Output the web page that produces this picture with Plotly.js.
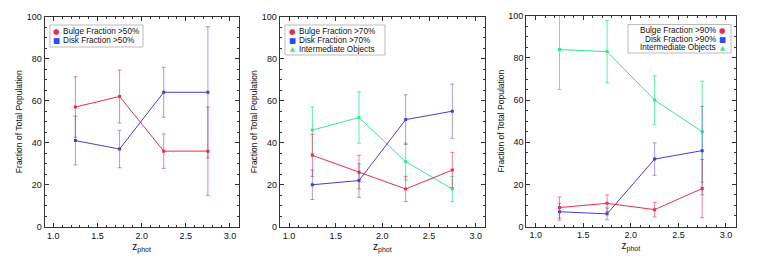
<!DOCTYPE html>
<html>
<head>
<meta charset="utf-8">
<script src="https://cdn.plot.ly/plotly-3.0.1.min.js"></script>
<style>html,body{margin:0;padding:0;background:#fff;}#chart{width:761px;height:258px;}</style>
</head>
<body>
<div id="chart"></div>
<script>
// ---- data ----
const zPhot = [1.25, 1.75, 2.25, 2.75];

// panel 1 (fraction > 50%)
const bulge50 = [57, 62, 36, 36];
const bulge50Err = [14.4, 12.6, 8.2, 21];
const disk50 = [41, 37, 64, 64];
const disk50Err = [11.6, 8.9, 11.9, 31.2];

// panel 2 (fraction > 70%)
const bulge70 = [34, 26, 18, 27];
const bulge70Err = [10, 8, 6, 8.4];
const disk70 = [20, 22, 51, 55];
const disk70Err = [7, 8, 11.8, 12.9];
const inter70 = [46, 52, 31, 18];
const inter70Err = [11, 12.2, 8.8, 6];

// panel 3 (fraction > 90%)
const bulge90 = [9, 11, 8, 18];
const bulge90Err = [5, 4, 3.5, 13.8];
const disk90 = [7, 6, 32, 36];
const disk90Err = [4, 2.8, 7.7, 21];
const inter90 = [84, 83, 60, 45];
const inter90Err = [19, 14.8, 11.5, 24];

const xTickVals = [1.0, 1.5, 2.0, 2.5, 3.0];
const xTickText = ['1.0', '1.5', '2.0', '2.5', '3.0'];
const yTickVals = [0, 20, 40, 60, 80, 100];
const yTickText = ['0', '20', '40', '60', '80', '100'];

const legend50 = ['Bulge Fraction >50%', 'Disk Fraction >50%'];
const legend70 = ['Bulge Fraction >70%', 'Disk Fraction >70%', 'Intermediate Objects'];
const legend90 = ['Bulge Fraction >90%', 'Disk Fraction >90%', 'Intermediate Objects'];
const yTitle = 'Fraction of Total Population';
const xTitle = 'z<sub>phot</sub>';

// ---- styles ----
const W = 761, H = 258;
const RED = '#e4304e', BLUE = '#4a3ec6', GREEN = '#36e890';
const RED_E = 'rgba(228,48,78,0.6)', BLUE_E = 'rgba(74,62,198,0.5)', GREEN_E = 'rgba(46,230,142,0.75)';
const FONT = 'Liberation Sans, Arial, sans-serif';
const px = x => x / W;
const py = y => 1 - y / H;

function series(y, err, color, ecolor, xa, ya, name) {
  return {
    x: zPhot, y: y, name: name, type: 'scatter', mode: 'lines+markers',
    xaxis: xa, yaxis: ya,
    line: {color: color, width: 1},
    marker: {color: color, symbol: 'square', size: 3},
    error_y: {type: 'data', array: err, visible: true, color: ecolor, thickness: 1, width: 2},
    showlegend: false
  };
}

const data = [
  series(bulge50, bulge50Err, RED, RED_E, 'x', 'y', legend50[0]),
  series(disk50, disk50Err, BLUE, BLUE_E, 'x', 'y', legend50[1]),
  series(inter70, inter70Err, GREEN, GREEN_E, 'x2', 'y2', legend70[2]),
  series(bulge70, bulge70Err, RED, RED_E, 'x2', 'y2', legend70[0]),
  series(disk70, disk70Err, BLUE, BLUE_E, 'x2', 'y2', legend70[1]),
  series(inter90, inter90Err, GREEN, GREEN_E, 'x3', 'y3', legend90[2]),
  series(disk90, disk90Err, BLUE, BLUE_E, 'x3', 'y3', legend90[1]),
  series(bulge90, bulge90Err, RED, RED_E, 'x3', 'y3', legend90[0])
];

const axisCommon = {
  showline: true, linecolor: '#333', linewidth: 1, mirror: 'allticks',
  ticks: 'inside', ticklen: 4, tickcolor: '#333', tickwidth: 1,
  showgrid: false, zeroline: false,
  tickfont: {family: FONT, size: 9, color: '#111'},
  fixedrange: true
};
function xAxis(d0, d1, anchor) {
  return Object.assign({}, axisCommon, {
    domain: [px(d0), px(d1)], range: [0.9, 3.1], anchor: anchor,
    tickmode: 'array', tickvals: xTickVals, ticktext: xTickText,
    minor: {tickmode: 'linear', tick0: 0.9, dtick: 0.1, ticks: 'inside', ticklen: 2, tickcolor: '#333', showgrid: false},
    title: {text: xTitle, font: {family: FONT, size: 10, color: '#111'}, standoff: 2}
  });
}
function yAxis(anchor, top, bottom) {
  return Object.assign({}, axisCommon, {
    domain: [py(bottom), py(top)], range: [0, 100], anchor: anchor,
    tickmode: 'array', tickvals: yTickVals, ticktext: yTickText,
    minor: {tickmode: 'linear', tick0: 0, dtick: 5, ticks: 'inside', ticklen: 2, tickcolor: '#333', showgrid: false},
    title: {text: yTitle, font: {family: FONT, size: 8.5, color: '#111'}, standoff: 2}
  });
}

const annotations = [];
const shapes = [];
function txt(text, x, y, opts) {
  annotations.push(Object.assign({
    text: text, xref: 'paper', yref: 'paper', x: px(x), y: py(y),
    showarrow: false, xanchor: 'left', yanchor: 'middle', borderpad: 0,
    font: {family: FONT, size: 8.2, color: '#111'}
  }, opts || {}));
}
function box(x0, y0, x1, y1) {
  shapes.push({type: 'rect', xref: 'paper', yref: 'paper', x0: px(x0), x1: px(x1), y0: py(y1), y1: py(y0),
    line: {color: '#bbb', width: 1}, fillcolor: 'rgba(255,255,255,0)'});
}
const GLYPHS = ['●', '■', '▲'];
const GCOL = [RED, '#1f4fff', GREEN];
function glyph(i, x, y) {
  txt(GLYPHS[i], x, y, {xanchor: 'center', font: {family: 'DejaVu Sans', size: i === 2 ? 6.5 : 7.5, color: GCOL[i]}});
}

// legend panel 1
box(50, 25, 143, 47);
legend50.forEach((t, i) => { glyph(i, 57, 31.2 + i * 9); txt(t, 61.5, 31.2 + i * 9); });
// legend panel 2
box(285, 25, 385, 55);
legend70.forEach((t, i) => { glyph(i, 292.5, 31.8 + i * 8.6); txt(t, 297.5, 31.8 + i * 8.6); });
// legend panel 3 (symbols on the right)
box(628, 24.5, 731, 53);
legend90.forEach((t, i) => { glyph(i, 722.3, 30.4 + i * 8.7); txt(t, 717, 30.4 + i * 8.7, {xanchor: 'right'}); });

const layout = {
  width: W, height: H, margin: {l: 0, r: 0, t: 0, b: 0},
  paper_bgcolor: '#fff', plot_bgcolor: '#fff', showlegend: false,
  xaxis: xAxis(44.5, 238.8, 'y'),
  yaxis: yAxis('x', 16.6, 226.8),
  xaxis2: xAxis(279.7, 485.0, 'y2'),
  yaxis2: yAxis('x2', 16.6, 226.8),
  xaxis3: xAxis(526.2, 735.5, 'y3'),
  yaxis3: yAxis('x3', 15.8, 226.5),
  annotations: annotations,
  shapes: shapes
};

Plotly.newPlot('chart', data, layout, {staticPlot: true, displayModeBar: false});
</script>
</body>
</html>
